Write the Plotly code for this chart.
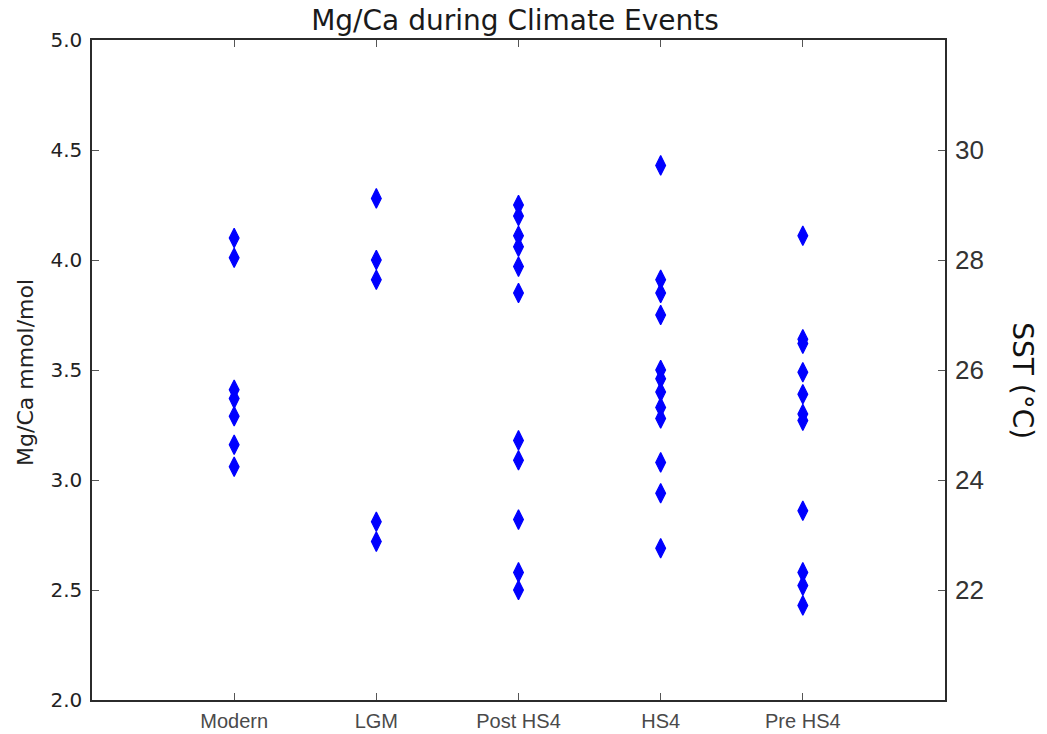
import plotly.graph_objects as go

# Climate event groups along the x axis
events = ["Modern", "LGM", "Post HS4", "HS4", "Pre HS4"]

# Mg/Ca (mmol/mol) measurements for each event
modern = [4.10, 4.01, 3.41, 3.37, 3.29, 3.16, 3.06]
lgm = [4.28, 4.00, 3.91, 2.81, 2.72]
post_hs4 = [4.25, 4.20, 4.11, 4.06, 3.97, 3.85, 3.18, 3.09, 2.82, 2.58, 2.50]
hs4 = [4.43, 3.91, 3.85, 3.75, 3.50, 3.46, 3.40, 3.33, 3.28, 3.08, 2.94, 2.69]
pre_hs4 = [4.11, 3.64, 3.62, 3.49, 3.39, 3.30, 3.27, 2.86, 2.58, 2.52, 2.43]

groups = [modern, lgm, post_hs4, hs4, pre_hs4]

# Tick marks for both vertical axes
mgca_ticks = [2.0, 2.5, 3.0, 3.5, 4.0, 4.5, 5.0]
sst_ticks = [22, 24, 26, 28, 30]

xs, ys = [], []
for name, vals in zip(events, groups):
    xs += [name] * len(vals)
    ys += vals

fig = go.Figure()
fig.add_trace(go.Scatter(
    x=xs, y=ys, mode="markers",
    marker=dict(symbol="diamond-tall", size=14, color="#0000ff",
                line=dict(width=1.2, color="#0000ff")),
    showlegend=False, hoverinfo="x+y",
))
# invisible trace to activate the SST axis
fig.add_trace(go.Scatter(x=[events[0]], y=[None], yaxis="y2",
                         mode="markers", showlegend=False, hoverinfo="skip"))

axis_line = "#2b2b2b"
fig.update_layout(
    width=1047, height=734,
    margin=dict(l=92, r=102, t=40, b=34),
    paper_bgcolor="white", plot_bgcolor="white",
    title=dict(text="Mg/Ca during Climate Events", x=0.4919, xanchor="center",
               y=0.972, yanchor="middle",
               font=dict(family="DejaVu Sans", size=28, color="#1a1a1a")),
    xaxis=dict(
        type="category", categoryorder="array", categoryarray=events,
        range=[-1, 5], showgrid=False, zeroline=False, automargin=False,
        showline=True, linecolor=axis_line, linewidth=1.5, mirror="ticks",
        ticks="inside", ticklen=7, tickcolor="#555", tickwidth=1,
        tickfont=dict(family="Liberation Sans", size=20, color="#4a4a4a"),
        ticklabelstandoff=2,
    ),
    yaxis=dict(
        range=[2.0, 5.0], tickvals=mgca_ticks, ticktext=[f"{v:.1f}" for v in mgca_ticks],
        showgrid=False, zeroline=False, automargin=False,
        showline=True, linecolor=axis_line, linewidth=1.5,
        ticks="inside", ticklen=7, tickcolor="#555", tickwidth=1,
        tickfont=dict(family="DejaVu Sans", size=20, color="#222"),
        ticklabelstandoff=4,
    ),
    yaxis2=dict(
        overlaying="y", side="right", range=[20, 32], tickvals=sst_ticks,
        showgrid=False, zeroline=False, automargin=False,
        showline=True, linecolor=axis_line, linewidth=1.5,
        ticks="inside", ticklen=7, tickcolor="#555", tickwidth=1,
        tickfont=dict(family="Liberation Sans", size=26, color="#333"),
        ticklabelstandoff=3,
    ),
    annotations=[
        dict(text="Mg/Ca mmol/mol", xref="paper", yref="paper",
             x=-0.0774, y=0.497, xanchor="center", yanchor="middle",
             textangle=-90, showarrow=False,
             font=dict(family="DejaVu Sans", size=22, color="#222")),
        dict(text="SST (°C)", xref="paper", yref="paper",
             x=1.0914, y=0.483, xanchor="center", yanchor="middle",
             textangle=90, showarrow=False,
             font=dict(family="DejaVu Sans", size=28, color="#111")),
    ],
)

fig.write_html("out.html")
